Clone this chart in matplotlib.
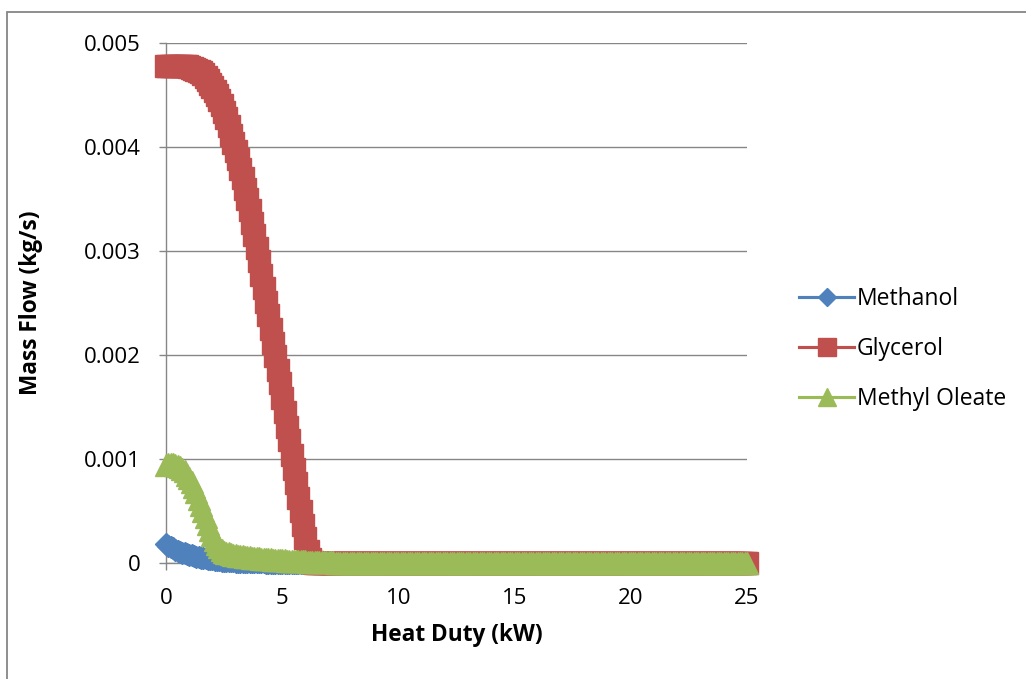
import numpy as np
import matplotlib
matplotlib.use("Agg")
import matplotlib.pyplot as plt
from matplotlib.patches import Rectangle

plt.rcParams['font.family'] = ['Open Sans', 'DejaVu Sans']

# heat duty sampled every 0.1 kW from 0 to 25
heat_duty = np.round(np.arange(251) * 0.1, 1)

methanol_head = [
    0.000180, 0.000165, 0.000152, 0.000140, 0.000129, 0.000119, 0.000110, 0.000101, 0.000093, 0.000086,
    0.000079, 0.000073, 0.000067, 0.000062, 0.000057, 0.000052, 0.000048, 0.000044, 0.000040, 0.000037,
    0.000034, 0.000031, 0.000028, 0.000026, 0.000024, 0.000022, 0.000020, 0.000018, 0.000017, 0.000015,
    0.000014, 0.000013, 0.000012, 0.000011, 0.000010, 0.000009, 0.000009, 0.000008, 0.000008, 0.000007,
    0.000007, 0.000006, 0.000006, 0.000005, 0.000005, 0.000004, 0.000004, 0.000003, 0.000002, 0.000001,
]
glycerol_head = [
    0.00478, 0.00478, 0.00478, 0.00478, 0.00478, 0.00478, 0.00478, 0.00478, 0.00478, 0.00478,
    0.00477, 0.00476, 0.00475, 0.00474, 0.00473, 0.00472, 0.00470, 0.00467, 0.00464, 0.00461,
    0.00458, 0.00454, 0.00450, 0.00445, 0.00440, 0.00434, 0.00428, 0.00420, 0.00412, 0.00404,
    0.00396, 0.00388, 0.00379, 0.00370, 0.00360, 0.00350, 0.00339, 0.00327, 0.00315, 0.00303,
    0.00290, 0.00277, 0.00264, 0.00251, 0.00238, 0.00225, 0.00212, 0.00199, 0.00186, 0.00173,
    0.00159, 0.00145, 0.00131, 0.00118, 0.00104, 0.00090, 0.00077, 0.00063, 0.00050, 0.00037,
    0.00024, 0.00012, 0.00004, 0.00001,
]
oleate_head = [
    0.00094, 0.00095, 0.00095, 0.00095, 0.00094, 0.00093, 0.00092, 0.00090, 0.00088, 0.00085,
    0.00082, 0.00078, 0.00073, 0.00068, 0.00062, 0.00056, 0.00050, 0.00044, 0.00038, 0.00032,
    0.00027, 0.00022, 0.00018, 0.00015, 0.00013, 0.00011, 0.00010, 0.000092, 0.000086, 0.000081,
    0.000076, 0.000072, 0.000068, 0.000064, 0.000061, 0.000058, 0.000055, 0.000052, 0.000049, 0.000047,
    0.000044, 0.000042, 0.000040, 0.000038, 0.000036, 0.000034, 0.000032, 0.000031, 0.000029, 0.000028,
    0.000026, 0.000025, 0.000024, 0.000022, 0.000021, 0.000020, 0.000019, 0.000018, 0.000017, 0.000016,
    0.000015, 0.000014, 0.000013, 0.000012, 0.000012, 0.000011, 0.000010, 0.000009, 0.000009, 0.000008,
    0.000007, 0.000007, 0.000006, 0.000005, 0.000005, 0.000004, 0.000003, 0.000003, 0.000002, 0.000001,
]
# everything beyond the listed values reads as zero on the chart
methanol = methanol_head + [0.0] * (len(heat_duty) - len(methanol_head))
glycerol = glycerol_head + [0.0] * (len(heat_duty) - len(glycerol_head))
oleate = oleate_head + [0.0] * (len(heat_duty) - len(oleate_head))

x_ticks = [0, 5, 10, 15, 20, 25]
y_ticks = [0, 0.001, 0.002, 0.003, 0.004, 0.005]
y_tick_labels = ['0', '0.001', '0.002', '0.003', '0.004', '0.005']

grey = '#868686'
fig = plt.figure(figsize=(10.26, 6.79), dpi=100)
ax = fig.add_axes([0.1618, 0.1708, 0.5663, 0.7659])

ax.plot(heat_duty, methanol, color='#4F81BD', lw=2.25, marker='D', ms=11,
        mec='#4F81BD', label='Methanol', clip_on=False, zorder=3)
ax.plot(heat_duty, glycerol, color='#C0504D', lw=2.25, marker='s', ms=15.5,
        mec='#C0504D', label='Glycerol', clip_on=False, zorder=4)
ax.plot(heat_duty, oleate, color='#9BBB59', lw=2.25, marker='^', ms=16,
        mec='#9BBB59', label='Methyl Oleate', clip_on=False, zorder=5)

ax.set_xlim(0, 25)
ax.set_ylim(0, 0.005)
ax.set_xticks(x_ticks)
ax.set_xticklabels([str(t) for t in x_ticks])
ax.set_yticks(y_ticks)
ax.set_yticklabels(y_tick_labels)
ax.tick_params(axis='both', direction='out', length=5, width=1, color=grey,
               labelsize=16, pad=13)
ax.yaxis.grid(True, color=grey, lw=1)
ax.set_axisbelow(True)
for side in ['top', 'right']:
    ax.spines[side].set_visible(False)
for side in ['left', 'bottom']:
    ax.spines[side].set_color(grey)
    ax.spines[side].set_linewidth(1)

ax.set_xlabel('Heat Duty (kW)', fontsize=16.3, fontweight='bold')
ax.set_ylabel('Mass Flow (kg/s)', fontsize=16.3, fontweight='bold')
ax.xaxis.set_label_coords(0.5, -0.116)
ax.yaxis.set_label_coords(-0.212, 0.5)

leg = fig.legend(loc='center left', bbox_to_anchor=(0.759, 0.486), frameon=False,
                 fontsize=16.5, handlelength=2.4, handletextpad=0.1, labelspacing=1.12,
                 markerscale=0.8)

fig.patches.append(Rectangle((7 / 1026, -0.05), 1.1, 1 - 12 / 679 + 0.05,
                             transform=fig.transFigure, fill=False,
                             edgecolor=grey, lw=1.3, clip_on=False))

fig.savefig('out.png', dpi=100)
